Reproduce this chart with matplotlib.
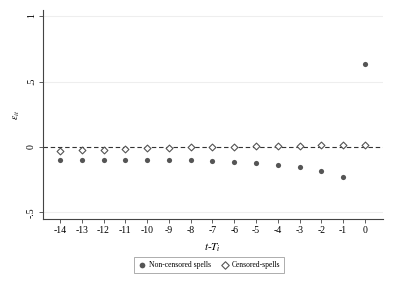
import matplotlib
matplotlib.use("Agg")
import matplotlib.pyplot as plt
import numpy as np

periods = list(range(-14, 1))
non_censored = [-0.10, -0.10, -0.10, -0.10, -0.10, -0.10, -0.103, -0.11, -0.115,
                -0.123, -0.135, -0.153, -0.18, -0.23, 0.636]
censored = [-0.028, -0.025, -0.02, -0.015, -0.01, -0.005, -0.003, 0.0, 0.002,
            0.004, 0.006, 0.01, 0.012, 0.015, 0.018]
yticks = [-0.5, 0, 0.5, 1]
ytick_labels = ["-.5", "0", ".5", "1"]

plt.rcParams['font.family'] = ['Liberation Serif', 'DejaVu Serif']
plt.rcParams['mathtext.fontset'] = 'stix'

fig = plt.figure(figsize=(3.93, 2.86), dpi=100)
ax = fig.add_axes([43/393, 1-219/286, 340/393, 209/286])

for y in [-0.5, 0.5, 1]:
    ax.axhline(y, color='#eeeeee', lw=0.8, zorder=0)
ax.axhline(0, color='#333333', lw=0.8, ls=(0, (4, 2.5)), zorder=1)

ax.scatter(periods, non_censored, s=14, color='#555555', marker='o', zorder=3,
           label='Non-censored spells', linewidths=0)
ax.scatter(periods, censored, s=12, facecolor='white', edgecolor='#555555',
           marker='D', linewidths=0.8, zorder=3, label='Censored-spells')

ax.set_xlim(-14.78, 0.83)
ax.set_ylim(-0.55, 1.046)
ax.set_xticks(periods)
ax.set_xticklabels([str(p) for p in periods], fontsize=7)
ax.set_yticks(yticks)
ax.set_yticklabels(ytick_labels, fontsize=7, rotation=90, va='center')

for s in ['top', 'right']:
    ax.spines[s].set_visible(False)
for s in ['left', 'bottom']:
    ax.spines[s].set_color('#444444')
    ax.spines[s].set_linewidth(0.8)
ax.tick_params(axis='both', direction='out', length=3, width=0.6, color='#444444', pad=2)

ax.set_xlabel(r'$t$-$T_i$', fontsize=8, labelpad=5)
ax.set_ylabel(r'$\varepsilon_{it}$', fontsize=7, labelpad=4)

leg = fig.legend(loc='center', bbox_to_anchor=(209/393, 1-265/286), ncol=2, fontsize=5.5,
                 frameon=True, fancybox=False, edgecolor='#888888', handletextpad=0.3,
                 columnspacing=1.2, borderpad=0.5, handlelength=1.2, markerscale=1.1)
leg.get_frame().set_linewidth(0.6)

fig.savefig('out.png', dpi=100)
